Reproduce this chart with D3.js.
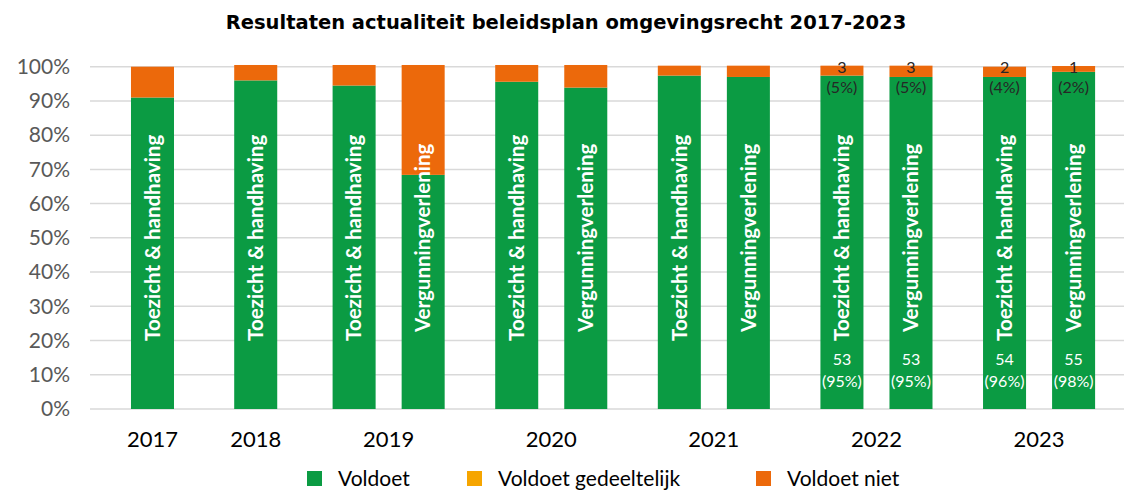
<!DOCTYPE html>
<html>
<head>
<meta charset="utf-8">
<script src="https://cdn.jsdelivr.net/npm/d3@7"></script>
<style>
  body { margin: 0; background: #fff; }
  text { font-family: Lato, "Open Sans", sans-serif; }
</style>
</head>
<body>
<svg id="chart" width="1124" height="491"></svg>
<script>
// data
var years = ["2017", "2018", "2019", "2020", "2021", "2022", "2023"];
var barYear = ["2017", "2018", "2019", "2019", "2020", "2020", "2021", "2021", "2022", "2022", "2023", "2023"];
var barType = ["Toezicht & handhaving", "Toezicht & handhaving", "Toezicht & handhaving", "Vergunningverlening",
               "Toezicht & handhaving", "Vergunningverlening", "Toezicht & handhaving", "Vergunningverlening",
               "Toezicht & handhaving", "Vergunningverlening", "Toezicht & handhaving", "Vergunningverlening"];
var voldoet      = [91, 96, 94.5, 68.4, 95.6, 93.9, 97.4, 97.0, 97.4, 97.0, 97.0, 98.5];
var gedeeltelijk = [0, 0, 0, 0, 0, 0, 0, 0, 0, 0, 0, 0];
var niet         = [9, 4.5, 6, 32.1, 4.9, 6.6, 2.9, 3.3, 2.9, 3.3, 3.0, 1.7];
// value labels (only 2022 / 2023)
var voldoetLabel = [null, null, null, null, null, null, null, null, ["53", "(95%)"], ["53", "(95%)"], ["54", "(96%)"], ["55", "(98%)"]];
var nietLabel    = [null, null, null, null, null, null, null, null, ["3", "(5%)"], ["3", "(5%)"], ["2", "(4%)"], ["1", "(2%)"]];
var series = ["Voldoet", "Voldoet gedeeltelijk", "Voldoet niet"];
var yTicks = [0, 10, 20, 30, 40, 50, 60, 70, 80, 90, 100];

var colors = d3.scaleOrdinal().domain(series).range(["#0b9b43", "#f6a500", "#ec690b"]);

var svg = d3.select("svg"),
    width = +svg.attr("width");

var plot = {left: 90, right: 1124, top: 66.7, bottom: 409};

// layout: single-bar years are a bit wider, small gap between years
var singleW = 1.14, gap = 0.355, barW = 0.623;
var pos = [], groupCenter = {}, cursor = 0;
years.forEach(function(yr) {
  var idx = barYear.map(function(b, i) { return b === yr ? i : -1; }).filter(function(i) { return i >= 0; });
  var w = idx.length === 1 ? singleW : idx.length;
  idx.forEach(function(i, k) {
    pos[i] = idx.length === 1 ? cursor + w / 2 : cursor + k + 0.5;
  });
  groupCenter[yr] = cursor + w / 2;
  cursor += w + gap;
});

var x = d3.scaleLinear().domain([-0.335, 14.64]).range([plot.left, plot.right]);
var y = d3.scaleLinear().domain([0, 100]).range([plot.bottom, plot.top]);
var bw = x(barW) - x(0);

// title
svg.append("text")
  .attr("x", 566).attr("y", 29)
  .attr("text-anchor", "middle")
  .style("font-family", "'DejaVu Sans', sans-serif")
  .style("font-size", "19.5px").style("font-weight", "700").style("fill", "#000")
  .text("Resultaten actualiteit beleidsplan omgevingsrecht 2017-2023");

// grid
svg.append("g").selectAll("line")
  .data(yTicks).enter().append("line")
  .attr("x1", plot.left).attr("x2", plot.right)
  .attr("y1", function(d) { return y(d); }).attr("y2", function(d) { return y(d); })
  .attr("stroke", "#d9d9d9").attr("stroke-width", 1.5);

// y axis
var yAxis = svg.append("g")
  .attr("transform", "translate(" + (plot.left - 20) + ",0)")
  .call(d3.axisLeft(y).tickValues(yTicks).tickSize(0).tickPadding(0).tickFormat(function(d) { return d + "%"; }));
yAxis.select(".domain").remove();
yAxis.selectAll("text")
  .style("font-size", "21px").style("fill", "#595959").style("font-family", "Lato, sans-serif");

// stacked bars
var rows = barYear.map(function(b, i) {
  return {i: i, "Voldoet": voldoet[i], "Voldoet gedeeltelijk": gedeeltelijk[i], "Voldoet niet": niet[i]};
});
var stack = d3.stack().keys(series)(rows);

svg.append("g").selectAll("g")
  .data(stack).enter().append("g")
  .attr("fill", function(d) { return colors(d.key); })
  .selectAll("rect")
  .data(function(d) { return d; }).enter().append("rect")
  .attr("x", function(d) { return x(pos[d.data.i]) - bw / 2; })
  .attr("y", function(d) { return y(d[1]); })
  .attr("width", bw)
  .attr("height", function(d) { return y(d[0]) - y(d[1]); });

// rotated type labels
svg.append("g").selectAll("text")
  .data(barType).enter().append("text")
  .attr("transform", function(d, i) { return "translate(" + x(pos[i]) + "," + y(50) + ") rotate(-90)"; })
  .attr("text-anchor", "middle")
  .attr("dy", "0.35em")
  .style("font-size", "20.5px").style("font-weight", "700").style("fill", "#fff")
  .text(function(d) { return d; });

// value labels inside green (bottom)
var vl = svg.append("g");
voldoetLabel.forEach(function(l, i) {
  if (!l) return;
  vl.append("text").attr("x", x(pos[i])).attr("y", y(13))
    .attr("text-anchor", "middle").style("font-size", "16px").style("fill", "#fff").text(l[0]);
  vl.append("text").attr("x", x(pos[i])).attr("y", y(6.5))
    .attr("text-anchor", "middle").style("font-size", "16px").style("fill", "#fff").text(l[1]);
});
nietLabel.forEach(function(l, i) {
  if (!l) return;
  vl.append("text").attr("x", x(pos[i])).attr("y", y(98.2))
    .attr("text-anchor", "middle").style("font-size", "16px").style("fill", "#262626").text(l[0]);
  vl.append("text").attr("x", x(pos[i])).attr("y", y(92.4))
    .attr("text-anchor", "middle").style("font-size", "16px").style("fill", "#262626").text(l[1]);
});

// year labels
svg.append("g").selectAll("text")
  .data(years).enter().append("text")
  .attr("x", function(d) { return x(groupCenter[d]); })
  .attr("y", 447)
  .attr("text-anchor", "middle")
  .style("font-size", "22px").style("fill", "#000")
  .text(function(d) { return d; });

// legend
var legendX = [307, 467, 756];
var legend = svg.append("g").selectAll("g")
  .data(series).enter().append("g")
  .attr("transform", function(d, i) { return "translate(" + legendX[i] + ",471)"; });
legend.append("rect").attr("width", 15).attr("height", 15).attr("fill", function(d) { return colors(d); });
legend.append("text").attr("x", 31).attr("y", 15)
  .style("font-size", "21px").style("fill", "#000")
  .text(function(d) { return d; });
</script>
</body>
</html>
